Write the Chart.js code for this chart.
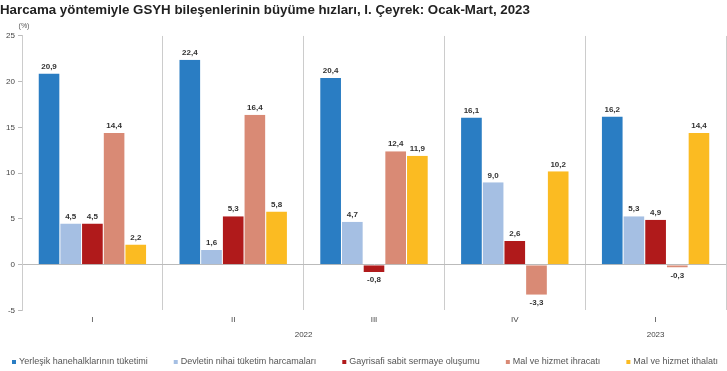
<!DOCTYPE html>
<html>
<head>
<meta charset="utf-8">
<script src="https://cdn.jsdelivr.net/npm/chart.js@4.4.1/dist/chart.umd.min.js"></script>
<style>
html,body{margin:0;padding:0;background:#fff;}
#wrap{width:727px;height:371px;position:relative;}
</style>
</head>
<body>
<div id="wrap"><canvas id="c"></canvas></div>
<script>
const quarters = ['I', 'II', 'III', 'IV', 'I'];
const years = ['2022', '2022', '2022', '2022', '2023'];
const seriesNames = [
  'Yerleşik hanehalklarının tüketimi',
  'Devletin nihai tüketim harcamaları',
  'Gayrisafi sabit sermaye oluşumu',
  'Mal ve hizmet ihracatı',
  'Mal ve hizmet ithalatı'
];
const hanehalki = [20.9, 22.4, 20.4, 16.1, 16.2];
const devlet = [4.5, 1.6, 4.7, 9.0, 5.3];
const gsso = [4.5, 5.3, -0.8, 2.6, 4.9];
const ihracat = [14.4, 16.4, 12.4, -3.3, -0.3];
const ithalat = [2.2, 5.8, 11.9, 10.2, 14.4];
const yTicks = [-5, 0, 5, 10, 15, 20, 25];

const colors = ['#2a7dc3', '#a5bfe3', '#b01a1b', '#d98a75', '#fbbb22'];
const seriesData = [hanehalki, devlet, gsso, ihracat, ithalat];

const fmt = v => v.toFixed(1).replace('.', ',');

const valueLabels = {
  id: 'valueLabels',
  afterDatasetsDraw(chart) {
    const ctx = chart.ctx;
    ctx.save();
    ctx.font = 'bold 8px "Liberation Sans", Arial, sans-serif';
    ctx.fillStyle = '#333';
    ctx.textAlign = 'center';
    chart.data.datasets.forEach((ds, i) => {
      const meta = chart.getDatasetMeta(i);
      meta.data.forEach((el, j) => {
        const v = ds.data[j];
        if (v >= 0) {
          ctx.textBaseline = 'bottom';
          ctx.fillText(fmt(v), el.x, el.y - 3);
        } else {
          ctx.textBaseline = 'top';
          ctx.fillText(fmt(v), el.x, el.y + 4);
        }
      });
    });
    ctx.restore();
  }
};

const extras = {
  id: 'extras',
  afterDraw(chart) {
    const ctx = chart.ctx;
    const xs = chart.scales.x;
    const area = chart.chartArea;
    ctx.save();
    // unit label
    ctx.font = '7px "Liberation Sans", Arial, sans-serif';
    ctx.fillStyle = '#555';
    ctx.textAlign = 'center';
    ctx.textBaseline = 'middle';
    ctx.fillText('(%)', area.left + 2, area.top - 10);
    // year group labels
    ctx.font = '8px "Liberation Sans", Arial, sans-serif';
    ctx.fillStyle = '#444';
    const groups = [];
    years.forEach((y, i) => {
      const g = groups[groups.length - 1];
      if (g && g.year === y) g.end = i; else groups.push({year: y, start: i, end: i});
    });
    const half = (xs.getPixelForValue(1) - xs.getPixelForValue(0)) / 2;
    groups.forEach(g => {
      const x0 = xs.getPixelForValue(g.start) - half;
      const x1 = xs.getPixelForValue(g.end) + half;
      ctx.fillText(g.year, (x0 + x1) / 2, area.bottom + 24);
    });
    // legend (single row, like the reference)
    ctx.font = '9px "Liberation Sans", Arial, sans-serif';
    ctx.textAlign = 'left';
    ctx.textBaseline = 'middle';
    let x = 12;
    const ly = chart.height - 9;
    seriesNames.forEach((n, i) => {
      ctx.fillStyle = colors[i];
      ctx.fillRect(x, ly - 2, 4, 4);
      ctx.fillStyle = '#555';
      ctx.fillText(n, x + 7, ly);
      x += 7 + ctx.measureText(n).width + 26;
    });
    ctx.restore();
  }
};

new Chart(document.getElementById('c'), {
  type: 'bar',
  data: {
    labels: quarters,
    datasets: seriesNames.map((n, i) => ({
      label: n,
      data: seriesData[i],
      backgroundColor: colors[i],
      borderColor: '#ffffff',
      borderWidth: {left: 0.5, right: 0.5, top: 0, bottom: 0},
      borderSkipped: false,
      categoryPercentage: 0.77,
      barPercentage: 1.0
    }))
  },
  options: {
    responsive: true,
    maintainAspectRatio: false,
    animation: false,
    layout: {padding: {top: 2, left: 0, right: 1, bottom: 27}},
    plugins: {
      title: {
        display: true,
        text: 'Harcama yöntemiyle GSYH bileşenlerinin büyüme hızları, I. Çeyrek: Ocak-Mart, 2023',
        align: 'start',
        color: '#222',
        font: {family: '"Liberation Sans Narrow", "Liberation Sans", Arial, sans-serif', size: 13.3, weight: 'bold'},
        padding: {top: 0, bottom: 18}
      },
      legend: {display: false},
      tooltip: {enabled: false}
    },
    scales: {
      x: {
        grid: {display: true, offset: true, color: '#cccccc', drawTicks: false},
        border: {display: false},
        ticks: {color: '#444', font: {size: 8, family: '"Liberation Sans", Arial, sans-serif'}, padding: 5},
        afterFit: s => { s.height += 14; }
      },
      y: {
        min: -5,
        max: 25,
        afterBuildTicks: s => { s.ticks = yTicks.map(v => ({value: v})); },
        grid: {
          color: c => (c.tick && c.tick.value === 0 ? '#bbbbbb' : 'rgba(0,0,0,0)'),
          tickColor: '#bbbbbb',
          tickLength: 4,
          lineWidth: 1
        },
        border: {display: true, color: '#cccccc'},
        ticks: {color: '#444', font: {size: 8, family: '"Liberation Sans", Arial, sans-serif'}, padding: 3},
        afterFit: s => { s.width = 22; }
      }
    }
  },
  plugins: [valueLabels, extras]
});
</script>
</body>
</html>
